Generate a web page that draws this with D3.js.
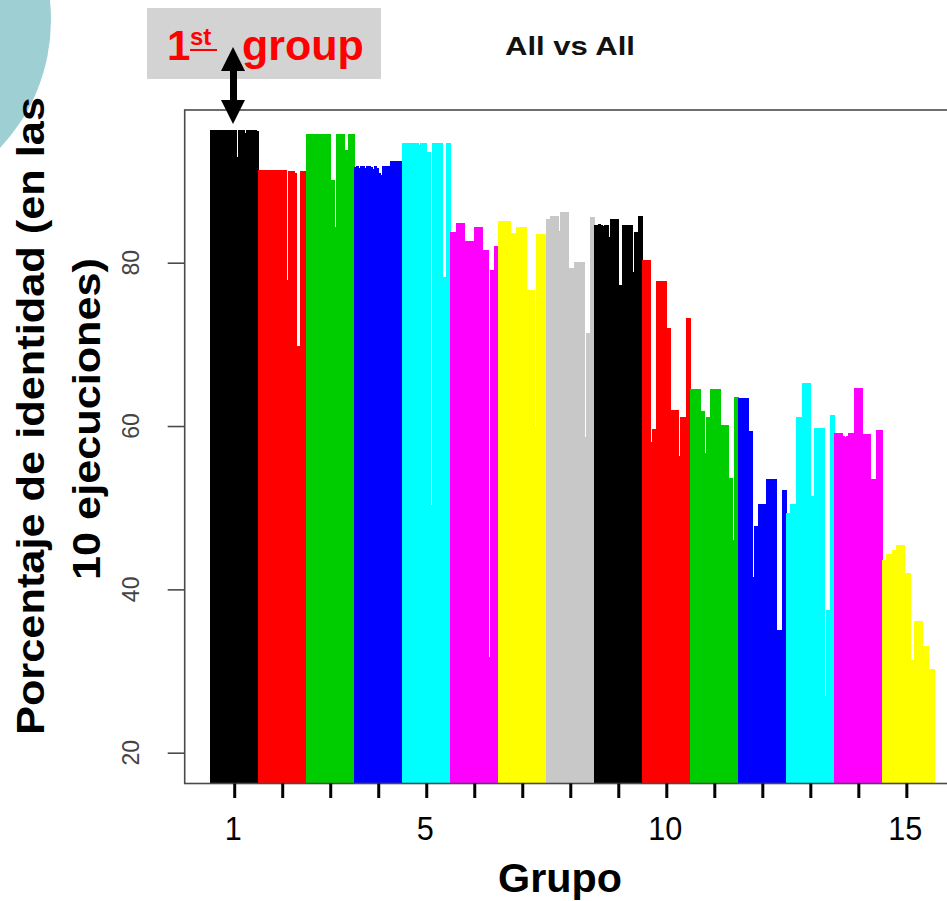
<!DOCTYPE html>
<html>
<head>
<meta charset="utf-8">
<title>All vs All</title>
<script src="https://d3js.org/d3.v7.min.js"></script>
<style>
  body { margin: 0; background: #fff; }
  svg { display: block; font-family: "Liberation Sans", Arial, sans-serif; }
</style>
</head>
<body>
<div id="chart"></div>
<script>
// groups, colours and the identity percentage of every line, group by group
const grupos = d3.range(1, 16);
const colores = ['#000000', '#ff0000', '#00cd00', '#0000ff', '#00ffff', '#ff00ff', '#ffff00', '#c8c8c8',
                 '#000000', '#ff0000', '#00cd00', '#0000ff', '#00ffff', '#ff00ff', '#ffff00'];

const grupo1 = [96.2,96.2,96.2,96.2,96.2,96.2,96.2,96.2,96.2,96.2,96.2,96.2,96.2,93.0,96.2,96.2,96.2,95.9,96.2,96.2,96.2,96.2,96.2,96.1];
const grupo2 = [91.3,91.3,91.3,91.3,91.3,91.3,91.3,91.3,91.3,91.3,91.3,91.3,91.3,91.3,77.9,91.2,91.2,91.2,91.0,69.8,69.8,91.2,91.2,91.2];
const grupo3 = [95.8,95.8,95.8,95.8,95.8,95.8,95.8,95.8,95.8,95.8,95.8,95.8,90.1,90.1,84.4,95.8,95.8,95.8,95.8,93.8,93.8,95.8,95.8,95.8];
const grupo4 = [91.7,91.9,91.6,91.8,91.9,91.6,91.8,91.9,91.7,91.5,91.8,91.6,91.0,90.8,91.8,91.8,91.8,91.8,92.5,92.5,92.5,92.5,92.5,92.5];
const grupo5 = [94.7,94.7,94.7,94.7,94.7,94.7,94.7,94.7,94.4,94.7,94.7,94.7,93.6,93.6,50.3,94.7,94.7,94.7,94.7,94.7,78.3,78.3,94.7,94.7];
const grupo6 = [83.8,83.8,83.8,84.9,84.9,84.9,84.9,82.6,82.6,82.6,82.6,82.6,84.4,84.4,84.4,84.4,81.6,81.6,81.6,31.7,79.1,79.1,82.0,82.0];
const grupo7 = [85.1,85.1,85.1,85.1,85.1,85.1,83.6,83.6,83.6,84.4,84.4,84.4,84.4,84.4,76.7,76.7,76.7,76.7,59.9,83.5,83.5,83.5,83.5,83.5];
const grupo8 = [85.4,85.4,85.7,85.7,85.7,85.7,83.9,86.2,86.2,86.2,86.2,79.3,79.3,79.3,80.1,80.1,80.1,80.1,80.1,58.6,71.4,71.4,85.6,85.6];
const grupo9 = [84.6,84.6,84.7,84.6,84.5,84.6,84.6,83.2,85.4,85.4,85.4,85.4,77.3,77.3,84.6,84.6,84.6,84.6,84.6,78.9,83.8,83.8,85.7,85.7];
const grupo10 = [80.3,80.3,80.3,80.3,58.1,59.6,59.6,77.8,77.8,77.8,77.8,77.8,72.0,72.0,62.0,62.0,62.0,62.0,56.3,61.1,61.1,61.1,73.2,73.2];
const grupo11 = [64.5,64.5,64.5,64.5,64.5,61.8,61.8,56.7,61.1,61.1,64.5,64.5,64.5,64.5,64.5,60.1,60.1,60.1,60.1,53.6,53.6,46.0,63.5,63.5];
const grupo12 = [63.4,63.4,63.4,63.4,63.4,59.4,59.4,41.5,47.7,47.7,50.4,50.4,50.4,50.4,53.5,53.5,53.5,53.5,53.5,35.0,35.0,35.0,52.2,52.2];
const grupo13 = [49.3,49.3,50.5,50.5,50.5,61.1,61.1,61.1,65.3,65.3,65.3,65.3,51.4,51.4,59.7,59.7,59.7,59.7,59.7,26.9,37.5,37.5,61.4,61.4];
const grupo14 = [59.2,59.2,59.2,59.2,58.8,58.6,58.8,59.2,59.2,59.2,64.7,64.7,64.7,64.7,59.0,59.0,59.0,59.0,53.5,53.5,53.5,59.5,59.5,59.5];
const grupo15 = [43.6,43.6,44.3,44.3,44.3,44.8,44.8,45.4,45.4,45.4,45.4,42.0,42.0,42.0,31.3,31.3,36.1,36.1,36.1,36.1,33.1,33.1,33.1,30.3,30.3,30.3];

const identidad = [grupo1, grupo2, grupo3, grupo4, grupo5, grupo6, grupo7, grupo8,
                   grupo9, grupo10, grupo11, grupo12, grupo13, grupo14, grupo15];
const yTicks = [20, 40, 60, 80];
const xLabels = [1, 5, 10, 15];
const lineasPorGrupo = 24;

// flatten to one record per vertical line
const lineas = [];
identidad.forEach((vals, gi) => {
  vals.forEach((v, j) => {
    lineas.push({ grupo: grupos[gi], pos: grupos[gi] - 0.5 + j / lineasPorGrupo, valor: v, color: colores[gi] });
  });
});

const width = 947, height = 901;
const plotLeft = 184.7, plotTop = 110, plotBottom = 783.5, plotRight = 960;

const svg = d3.select('#chart').append('svg')
  .attr('width', width)
  .attr('height', height);

// slide decoration
svg.append('circle')
  .attr('cx', -135).attr('cy', 20).attr('r', 186)
  .attr('fill', '#9ecfd2');

const x = d3.scaleLinear().domain([0.5, 15.5]).range([210.2, 930.35]);
const y = d3.scaleLinear().domain([20, 80]).range([752.7, 262.7]);
const paso = x(1 / lineasPorGrupo) - x(0);

// the vertical lines (type = "h"), drawn as thin solid strips
svg.append('g')
  .attr('shape-rendering', 'crispEdges')
  .selectAll('rect')
  .data(lineas)
  .join('rect')
  .attr('x', d => x(d.pos))
  .attr('width', paso + 0.3)
  .attr('y', d => y(d.valor))
  .attr('height', d => plotBottom - y(d.valor))
  .attr('fill', d => d.color);

// box
svg.append('rect')
  .attr('x', plotLeft).attr('y', plotTop)
  .attr('width', plotRight - plotLeft).attr('height', plotBottom - plotTop)
  .attr('fill', 'none')
  .attr('stroke', '#4a4a4a')
  .attr('stroke-width', 1.6);

// y axis
const yAxis = svg.append('g')
  .attr('transform', `translate(${plotLeft},0)`)
  .call(d3.axisLeft(y).tickValues(yTicks).tickSize(17).tickFormat(''));
yAxis.select('.domain').remove();
yAxis.selectAll('line').attr('stroke', '#4a4a4a').attr('stroke-width', 1.6);

svg.append('g').selectAll('text')
  .data(yTicks)
  .join('text')
  .attr('transform', d => `translate(139,${y(d)}) rotate(-90)`)
  .attr('text-anchor', 'middle')
  .attr('font-size', 23)
  .attr('fill', '#444')
  .text(d => d);

// x axis
const xAxis = svg.append('g')
  .attr('transform', `translate(0,${plotBottom})`)
  .call(d3.axisBottom(x).tickValues(grupos).tickSize(14.5).tickFormat(''));
xAxis.select('.domain').remove();
xAxis.selectAll('line').attr('stroke', '#000').attr('stroke-width', 3);

svg.append('g').selectAll('text')
  .data(xLabels)
  .join('text')
  .attr('transform', d => `translate(${x(d) - 1},840) scale(0.9,1)`)
  .attr('text-anchor', 'middle')
  .attr('font-size', 34)
  .attr('fill', '#000')
  .text(d => d);

// titles
svg.append('text')
  .attr('x', 570).attr('y', 55)
  .attr('text-anchor', 'middle')
  .attr('font-size', 26).attr('font-weight', 'bold')
  .attr('textLength', 130).attr('lengthAdjust', 'spacingAndGlyphs')
  .attr('fill', '#111')
  .text('All vs All');

svg.append('text')
  .attr('x', 560).attr('y', 892)
  .attr('text-anchor', 'middle')
  .attr('font-size', 41).attr('font-weight', 'bold')
  .attr('textLength', 124).attr('lengthAdjust', 'spacingAndGlyphs')
  .text('Grupo');

svg.append('text')
  .attr('transform', 'translate(44,416) rotate(-90)')
  .attr('text-anchor', 'middle')
  .attr('font-size', 38).attr('font-weight', 'bold')
  .attr('textLength', 638).attr('lengthAdjust', 'spacingAndGlyphs')
  .text('Porcentaje de identidad (en las');

svg.append('text')
  .attr('transform', 'translate(100,419) rotate(-90)')
  .attr('text-anchor', 'middle')
  .attr('font-size', 38).attr('font-weight', 'bold')
  .attr('textLength', 322).attr('lengthAdjust', 'spacingAndGlyphs')
  .text('10 ejecuciones)');

// "1st group" callout
svg.append('rect')
  .attr('x', 147).attr('y', 8)
  .attr('width', 234).attr('height', 71)
  .attr('fill', '#d3d3d3');

svg.append('text')
  .attr('x', 167).attr('y', 60)
  .attr('fill', '#ff0000').attr('font-weight', 'bold')
  .attr('font-size', 42)
  .text('1');
svg.append('text')
  .attr('x', 190).attr('y', 45)
  .attr('fill', '#ff0000').attr('font-weight', 'bold')
  .attr('font-size', 24)
  .text('st');
svg.append('text')
  .attr('x', 242).attr('y', 60)
  .attr('fill', '#ff0000').attr('font-weight', 'bold')
  .attr('font-size', 43)
  .text('group');

svg.append('line')
  .attr('x1', 190).attr('x2', 217).attr('y1', 50).attr('y2', 50)
  .attr('stroke', '#ff0000').attr('stroke-width', 2);

// double headed arrow
svg.append('line')
  .attr('x1', 233.5).attr('x2', 233.5).attr('y1', 66).attr('y2', 104)
  .attr('stroke', '#000').attr('stroke-width', 7);
svg.append('path')
  .attr('d', 'M233,47 L245,71 L221,71 Z M233,124 L245,100 L221,100 Z')
  .attr('fill', '#000');
</script>
</body>
</html>
